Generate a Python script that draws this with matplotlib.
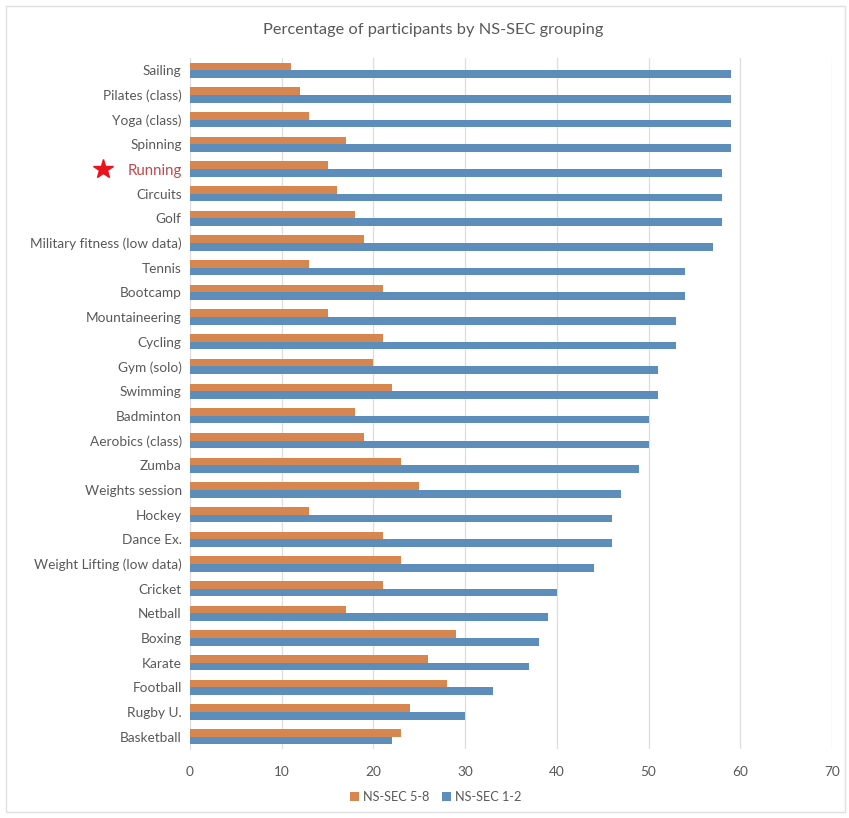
import numpy as np
import matplotlib
matplotlib.use('Agg')
import matplotlib.pyplot as plt
from matplotlib.patches import Rectangle

sports = ['Sailing', 'Pilates (class)', 'Yoga (class)', 'Spinning', 'Running',
          'Circuits', 'Golf', 'Military fitness (low data)', 'Tennis', 'Bootcamp',
          'Mountaineering', 'Cycling', 'Gym (solo)', 'Swimming', 'Badminton',
          'Aerobics (class)', 'Zumba', 'Weights session', 'Hockey', 'Dance Ex.',
          'Weight Lifting (low data)', 'Cricket', 'Netball', 'Boxing', 'Karate',
          'Football', 'Rugby U.', 'Basketball']
nssec_5_8 = [11, 12, 13, 17, 15, 16, 18, 19, 13, 21, 15, 21, 20, 22, 18, 19,
             23, 25, 13, 21, 23, 21, 17, 29, 26, 28, 24, 23]
nssec_1_2 = [59, 59, 59, 59, 58, 58, 58, 57, 54, 54, 53, 53, 51, 51, 50, 50,
             49, 47, 46, 46, 44, 40, 39, 38, 37, 33, 30, 22]
xticks = [0, 10, 20, 30, 40, 50, 60, 70]

orange = '#D6864E'
blue = '#5D8DBA'
grey_text = '#595959'
grid_col = '#DDDDDD'

plt.rcParams['font.family'] = ['Lato', 'DejaVu Sans']

W, H = 849, 818
fig = plt.figure(figsize=(W / 100, H / 100), dpi=100)
ax = fig.add_axes([190 / W, 1 - 749 / H, (832 - 190) / W, (749 - 58) / H])

y = np.arange(len(sports))
h = 0.31
ax.barh(y - h / 2, nssec_5_8, height=h, color=orange, label='NS-SEC 5-8', zorder=3)
ax.barh(y + h / 2, nssec_1_2, height=h, color=blue, label='NS-SEC 1-2', zorder=3)

ax.set_xlim(0, 70)
ax.set_ylim(len(sports) - 0.5, -0.5)
ax.set_xticks(xticks)
ax.set_yticks(y)
ax.set_yticklabels(sports)
ax.tick_params(axis='both', length=0, colors=grey_text, labelsize=9.8)
ax.tick_params(axis='x', pad=12)
ax.tick_params(axis='y', pad=6)
ax.xaxis.grid(True, color=grid_col, linewidth=0.9, zorder=0)
for s in ['top', 'right', 'bottom']:
    ax.spines[s].set_visible(False)
ax.spines['left'].set_color(grid_col)

# highlight Running
idx = sports.index('Running')
lab = ax.get_yticklabels()[idx]
lab.set_color('#C4474A')
lab.set_fontsize(10.8)
ax.plot([-0.135], [idx], marker='*', color='#E8141E', markersize=15,
        transform=ax.get_yaxis_transform(), clip_on=False)

fig.text(433 / W, 1 - 30 / H, 'Percentage of participants by NS-SEC grouping',
         ha='center', va='center', fontsize=11.8, color=grey_text)

fig.legend(loc='center', bbox_to_anchor=(436 / W, 1 - 797 / H), ncol=2,
           frameon=False, handlelength=0.7, handleheight=0.7, handletextpad=0.3,
           columnspacing=1.0, fontsize=9.2, labelcolor=grey_text)

fig.patches.append(Rectangle((6 / W, 6 / H), (845 - 6) / W, (812 - 6) / H,
                             transform=fig.transFigure, fill=False,
                             edgecolor='#E0E0E0', linewidth=1))

fig.savefig('out.png', dpi=100)
